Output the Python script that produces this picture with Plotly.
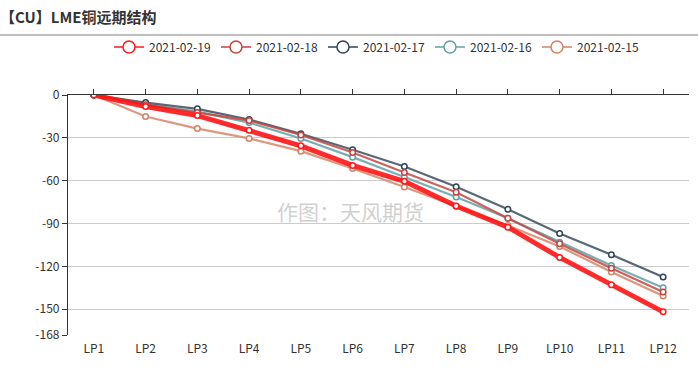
import plotly.graph_objects as go

categories = ["LP1", "LP2", "LP3", "LP4", "LP5", "LP6", "LP7", "LP8", "LP9", "LP10", "LP11", "LP12"]
dates = ["2021-02-19", "2021-02-18", "2021-02-17", "2021-02-16", "2021-02-15"]
s_0219 = [0, -8, -14.4, -24.6, -35.6, -49.3, -60.4, -77.7, -92.5, -113.7, -132.8, -151.8]
s_0218 = [0, -6.8, -12.3, -17.8, -28, -40.2, -54.2, -68.1, -86.3, -104.2, -121.2, -137.9]
s_0217 = [0, -5.3, -9.7, -17.2, -27.2, -38.3, -50, -64.2, -80, -97, -111.8, -127.4]
s_0216 = [0, -6.5, -11.6, -19.3, -30.4, -43.5, -57.4, -71.4, -86.3, -103, -119.3, -135]
s_0215 = [0, -15.1, -23.5, -30.4, -39.3, -51.4, -64.4, -78.1, -91.4, -106, -123.9, -140.7]
y_ticks = [0, -30, -60, -90, -120, -150, -168]

series = [s_0219, s_0218, s_0217, s_0216, s_0215]
line_colors = ["rgba(255,20,20,0.9)", "rgba(200,70,66,0.85)", "rgba(60,78,92,0.85)",
               "rgba(104,166,173,0.9)", "rgba(218,140,112,0.9)"]
marker_colors = ["#ff1a1a", "#c8423f", "#2f4554", "#61a0a8", "#d48265"]
widths = [5, 2.2, 2.2, 2.2, 2.2]

fig = go.Figure()
for i in [4, 3, 2, 1, 0]:
    fig.add_trace(go.Scatter(
        x=categories, y=series[i], name=dates[i], mode="lines+markers",
        line=dict(color=line_colors[i], width=widths[i]),
        marker=dict(symbol="circle", size=5.5, color="white",
                    line=dict(color=marker_colors[i], width=1.5)),
        showlegend=False, legendgroup=dates[i],
    ))
for i in range(5):
    fig.add_trace(go.Scatter(
        x=[None], y=[None], name=dates[i], mode="lines+markers",
        line=dict(color=marker_colors[i], width=1.5),
        marker=dict(symbol="circle", size=12, color="white",
                    line=dict(color=marker_colors[i], width=1.5)),
        showlegend=True, legendgroup=dates[i],
    ))

fig.add_trace(go.Scatter(x=categories, y=[None]*len(categories), xaxis="x2",
                         showlegend=False, hoverinfo="skip", mode="lines"))

fig.update_layout(
    width=698, height=376,
    margin=dict(l=68, r=9, t=95, b=41, autoexpand=False),
    paper_bgcolor="white", plot_bgcolor="white",
    font=dict(family="Noto Sans CJK SC, Noto Sans, sans-serif", size=12, color="#333"),
    showlegend=True,
    legend=dict(orientation="h", x=0.066, xanchor="left", y=1.2, yanchor="middle",
                font=dict(size=12, color="#333"), entrywidth=62, entrywidthmode="pixels",
                traceorder="normal", itemsizing="trace", bgcolor="rgba(0,0,0,0)"),
    xaxis=dict(type="category", range=[-0.5, 11.5], showline=False, showgrid=False,
               ticks="", tickfont=dict(size=12, color="#333"), zeroline=False,
               automargin=False, ticklabelstandoff=5),
    xaxis2=dict(type="category", range=[-0.5, 11.5], overlaying="x", side="top",
                showline=True, linecolor="#333", linewidth=1.2, ticks="outside",
                ticklen=5, tickcolor="#333", showticklabels=False, showgrid=False,
                zeroline=False, matches="x", automargin=False),
    yaxis=dict(range=[-168, 0], tickvals=y_ticks, ticktext=[str(v) for v in y_ticks],
               showline=True, linecolor="#333", linewidth=1.2, ticks="outside",
               ticklen=5, tickcolor="#333", showgrid=True, gridcolor="#cccccc",
               gridwidth=1, zeroline=False, tickfont=dict(size=12, color="#333"),
               automargin=False),
    title=dict(text="<b>【CU】LME铜远期结构</b>", x=0.0, xanchor="left", y=0.952,
               yanchor="middle", font=dict(size=15, color="#333"), automargin=False),
)

fig.add_shape(type="line", xref="paper", yref="paper", x0=-0.11, x1=1.02,
              y0=1.25, y1=1.25, line=dict(color="#aaaaaa", width=1.5))

fig.add_annotation(text="作图：天风期货", xref="paper", yref="paper",
                   x=(350 - 68) / 621, y=(335.5 - 211) / 240.8, showarrow=False,
                   font=dict(size=21, color="rgba(200,200,200,0.85)"))

fig.write_html("out.html", post_script="document.body.style.margin='0';",
               config={"displayModeBar": False})
